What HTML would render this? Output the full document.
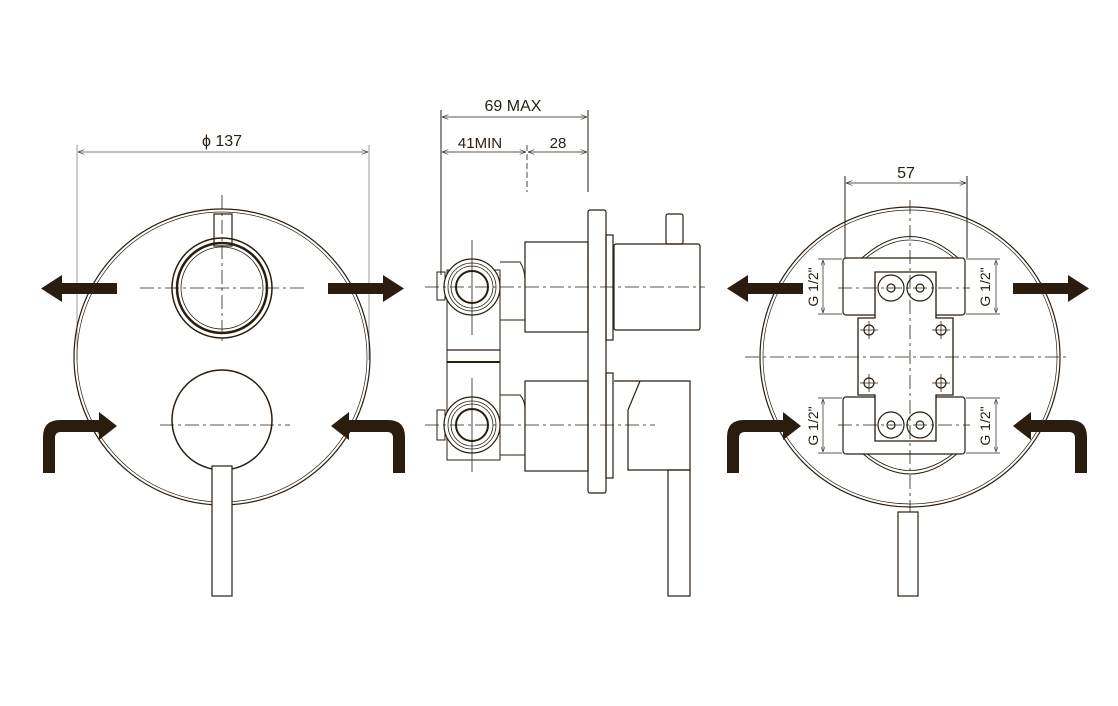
<!DOCTYPE html>
<html><head><meta charset="utf-8"><style>
html,body{margin:0;padding:0;background:#fff}
svg{display:block}
text{font-family:"Liberation Sans",sans-serif;fill:#2a1d10}
</style></head><body>
<svg width="1118" height="706" viewBox="0 0 1118 706" xmlns="http://www.w3.org/2000/svg">
<defs>
<marker id="ah" markerWidth="8" markerHeight="6" refX="8" refY="3" orient="auto"><path d="M0,0 L8,3 L0,6" fill="none" stroke="#333" stroke-width="0.8"/></marker>
<marker id="ahs" markerWidth="8" markerHeight="6" refX="0" refY="3" orient="auto"><path d="M8,0 L0,3 L8,6" fill="none" stroke="#333" stroke-width="0.8"/></marker>
</defs>
<g fill="none" stroke="#2a1d10" stroke-width="1.2">

<!-- LEFT VIEW -->
<line x1="77" y1="145" x2="77" y2="360" stroke="#999" stroke-width="1"/>
<line x1="369" y1="145" x2="369" y2="360" stroke="#999" stroke-width="1"/>
<line x1="78" y1="152" x2="368" y2="152" stroke="#555" stroke-width="0.8" marker-start="url(#ahs)" marker-end="url(#ah)"/>
<circle cx="222" cy="357" r="148"/>
<circle cx="222" cy="357" r="145" stroke-width="0.7"/>
<rect x="214" y="214" width="18" height="32" fill="#fff"/>
<circle cx="222" cy="288" r="50" stroke-width="1.5"/>
<circle cx="222" cy="288" r="45" stroke-width="2.5"/>
<circle cx="222" cy="288" r="41" stroke-width="0.8"/>
<circle cx="222" cy="420" r="50" stroke-width="1.5"/>
<line x1="140" y1="288" x2="305" y2="288" stroke-width="0.8" stroke-dasharray="14,4,3,4"/>
<line x1="222" y1="195" x2="222" y2="345" stroke-width="0.8" stroke-dasharray="14,4,3,4"/>
<line x1="160" y1="425" x2="290" y2="425" stroke-width="0.8" stroke-dasharray="14,4,3,4"/>
<rect x="212" y="466" width="20" height="130" fill="#fff"/>

<!-- MIDDLE VIEW -->
<line x1="441" y1="110" x2="441" y2="275" stroke-width="1"/>
<line x1="588" y1="110" x2="588" y2="192" stroke-width="1"/>
<line x1="527" y1="145" x2="527" y2="192" stroke-width="0.8" stroke-dasharray="6,3"/>
<line x1="442" y1="117" x2="587" y2="117" stroke-width="0.8" marker-start="url(#ahs)" marker-end="url(#ah)"/>
<line x1="442" y1="152" x2="526" y2="152" stroke-width="0.8" marker-start="url(#ahs)" marker-end="url(#ah)"/>
<line x1="528" y1="152" x2="587" y2="152" stroke-width="0.8" marker-start="url(#ahs)" marker-end="url(#ah)"/>
<!-- back body -->
<path d="M447,270 L447,460 L500,460 L500,270 Z" stroke-width="1"/>
<rect x="437" y="272" width="8" height="28" stroke-width="1"/>
<rect x="437" y="410" width="8" height="30" stroke-width="1"/>
<line x1="447" y1="350" x2="500" y2="350"/>
<line x1="447" y1="362" x2="500" y2="362" stroke-width="2"/>
<path d="M500,262 L520,262 Q525,270 525,280 L525,320 L500,320" stroke-width="1"/>
<path d="M500,395 L520,395 Q525,400 525,410 L525,455 L500,455" stroke-width="1"/>
<circle cx="472" cy="287" r="28" fill="#fff"/>
<circle cx="472" cy="287" r="24" stroke-width="0.8"/>
<circle cx="472" cy="287" r="21" stroke-width="0.8"/>
<circle cx="472" cy="287" r="16" stroke-width="2"/>
<circle cx="472" cy="425" r="28" fill="#fff"/>
<circle cx="472" cy="425" r="24" stroke-width="0.8"/>
<circle cx="472" cy="425" r="21" stroke-width="0.8"/>
<circle cx="472" cy="425" r="16" stroke-width="2"/>
<rect x="525" y="242" width="63" height="90"/>
<rect x="525" y="381" width="63" height="90"/>
<rect x="588" y="210" width="18" height="283" rx="2"/>
<rect x="606" y="235" width="7" height="105"/>
<rect x="606" y="373" width="7" height="105"/>
<rect x="614" y="244" width="86" height="86" rx="2"/>
<rect x="666" y="214" width="17" height="30" rx="2"/>
<path d="M614,381 L640,381 L644,381 L690,381 L690,470 L628,470 L628,410 L640,381"/>
<rect x="668" y="470" width="22" height="126"/>
<line x1="425" y1="287" x2="705" y2="287" stroke-width="0.8" stroke-dasharray="14,4,3,4"/>
<line x1="425" y1="425" x2="655" y2="425" stroke-width="0.8" stroke-dasharray="14,4,3,4"/>
<line x1="472" y1="240" x2="472" y2="335" stroke-width="0.8"/>
<line x1="472" y1="378" x2="472" y2="472" stroke-width="0.8"/>

<!-- RIGHT VIEW -->
<circle cx="910" cy="357" r="150"/>
<circle cx="910" cy="357" r="147" stroke-width="0.7"/>
<line x1="845" y1="176" x2="845" y2="258" stroke-width="1"/>
<line x1="967" y1="176" x2="967" y2="258" stroke-width="1"/>
<line x1="846" y1="183" x2="966" y2="183" stroke-width="0.8" marker-start="url(#ahs)" marker-end="url(#ah)"/>
<path d="M862,258 Q910,215 958,258" stroke-width="1"/>
<path d="M866,258 Q910,222 954,258" stroke-width="0.8"/>
<path d="M862,453 Q910,495 958,453" stroke-width="1"/>
<path d="M866,453 Q910,488 954,453" stroke-width="0.8"/>
<rect x="843" y="258" width="122" height="57" rx="3" fill="#fff"/>
<rect x="843" y="397" width="122" height="57" rx="3" fill="#fff"/>
<path d="M858,318 L858,395 L953,395 L953,318 Z" fill="#fff" stroke-width="1"/>
<path d="M875,272 L936,272 L936,318 L953,318 L953,395 L936,395 L936,441 L875,441 L875,395 L858,395 L858,318 L875,318 Z" fill="#fff" stroke-width="1.3"/>
<circle cx="891" cy="288" r="13"/><circle cx="891" cy="288" r="4"/>
<circle cx="920" cy="288" r="13"/><circle cx="920" cy="288" r="4"/>
<circle cx="891" cy="425" r="13"/><circle cx="891" cy="425" r="4"/>
<circle cx="920" cy="425" r="13"/><circle cx="920" cy="425" r="4"/>
<circle cx="869" cy="330" r="5"/><circle cx="941" cy="330" r="5"/>
<circle cx="869" cy="383" r="5"/><circle cx="941" cy="383" r="5"/>
<line x1="860" y1="330" x2="878" y2="330" stroke-width="0.8"/><line x1="869" y1="321" x2="869" y2="339" stroke-width="0.8"/>
<line x1="932" y1="330" x2="950" y2="330" stroke-width="0.8"/><line x1="941" y1="321" x2="941" y2="339" stroke-width="0.8"/>
<line x1="860" y1="383" x2="878" y2="383" stroke-width="0.8"/><line x1="869" y1="374" x2="869" y2="392" stroke-width="0.8"/>
<line x1="932" y1="383" x2="950" y2="383" stroke-width="0.8"/><line x1="941" y1="374" x2="941" y2="392" stroke-width="0.8"/>
<line x1="745" y1="357" x2="1068" y2="357" stroke-width="0.8" stroke-dasharray="14,4,3,4"/>
<line x1="910" y1="200" x2="910" y2="512" stroke-width="0.8" stroke-dasharray="14,4,3,4"/>
<line x1="838" y1="288" x2="970" y2="288" stroke-width="0.8" stroke-dasharray="14,4,3,4"/>
<line x1="838" y1="425" x2="970" y2="425" stroke-width="0.8" stroke-dasharray="14,4,3,4"/>
<!-- G1/2 dims -->
<g stroke-width="0.7">
<line x1="818" y1="259" x2="842" y2="259"/><line x1="818" y1="314" x2="842" y2="314"/>
<line x1="823" y1="260" x2="823" y2="313" marker-start="url(#ahs)" marker-end="url(#ah)"/>
<line x1="966" y1="259" x2="1000" y2="259"/><line x1="966" y1="314" x2="1000" y2="314"/>
<line x1="996" y1="260" x2="996" y2="313" marker-start="url(#ahs)" marker-end="url(#ah)"/>
<line x1="818" y1="398" x2="842" y2="398"/><line x1="818" y1="453" x2="842" y2="453"/>
<line x1="823" y1="399" x2="823" y2="452" marker-start="url(#ahs)" marker-end="url(#ah)"/>
<line x1="966" y1="398" x2="1000" y2="398"/><line x1="966" y1="453" x2="1000" y2="453"/>
<line x1="996" y1="399" x2="996" y2="452" marker-start="url(#ahs)" marker-end="url(#ah)"/>
</g>
<rect x="898" y="512" width="20" height="84" fill="#fff"/>
</g>

<!-- Arrows -->
<g fill="#2a1d10">
<path d="M117,283 L62,283 L62,275 L41,288.5 L62,302 L62,294 L117,294 Z"/>
<path d="M328,283 L383,283 L383,275 L404,288.5 L383,302 L383,294 L328,294 Z"/>
<path d="M43,473 L55,473 L55,438 Q55,432 61,432 L99,432 L99,440 L117,426 L99,412 L99,420 L60,420 Q43,420 43,437 Z"/>
<path d="M405,473 L393,473 L393,438 Q393,432 387,432 L349,432 L349,440 L331,426 L349,412 L349,420 L388,420 Q405,420 405,437 Z"/>
<path d="M803,283 L748,283 L748,275 L727,288.5 L748,302 L748,294 L803,294 Z"/>
<path d="M1013,283 L1068,283 L1068,275 L1089,288.5 L1068,302 L1068,294 L1013,294 Z"/>
<path d="M727,473 L739,473 L739,438 Q739,432 745,432 L783,432 L783,440 L801,426 L783,412 L783,420 L744,420 Q727,420 727,437 Z"/>
<path d="M1087,473 L1075,473 L1075,438 Q1075,432 1069,432 L1031,432 L1031,440 L1013,426 L1031,412 L1031,420 L1070,420 Q1087,420 1087,437 Z"/>
</g>

<!-- Text -->
<text x="222" y="146" font-size="16" text-anchor="middle">ϕ 137</text>
<text x="513" y="111" font-size="16" text-anchor="middle">69 MAX</text>
<text x="480" y="148" font-size="15" text-anchor="middle">41MIN</text>
<text x="558" y="148" font-size="15" text-anchor="middle">28</text>
<text x="906" y="178" font-size="16" text-anchor="middle">57</text>
<g font-size="14">
<text transform="translate(818,287) rotate(-90)" text-anchor="middle">G 1/2"</text>
<text transform="translate(990,287) rotate(-90)" text-anchor="middle">G 1/2"</text>
<text transform="translate(818,426) rotate(-90)" text-anchor="middle">G 1/2"</text>
<text transform="translate(990,426) rotate(-90)" text-anchor="middle">G 1/2"</text>
</g>
</svg>
</body></html>
